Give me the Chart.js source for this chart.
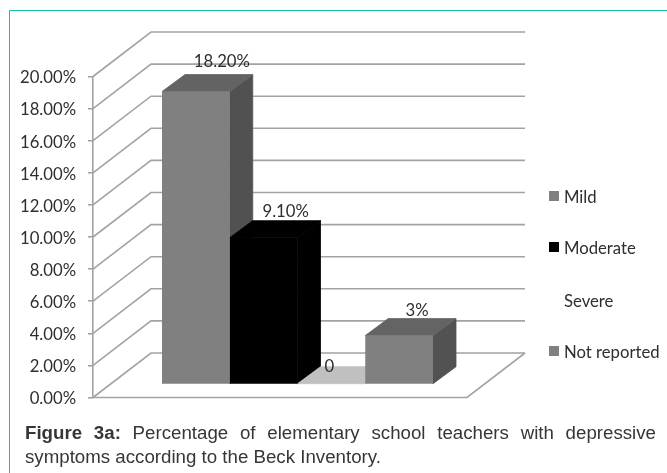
<!DOCTYPE html>
<html>
<head>
<meta charset="utf-8">
<script src="https://cdn.jsdelivr.net/npm/chart.js@4"></script>
<style>
  html, body { margin: 0; padding: 0; background: #fff; overflow: hidden; }
  #page { position: relative; width: 667px; height: 473px; overflow: hidden; }
  #frame { position: absolute; left: 9px; top: 10px; width: 700px; height: 500px;
           border: 1.5px solid #14bfa6; box-sizing: border-box; }
  canvas { position: absolute; left: 0; top: 0; }
  #caption { position: absolute; left: 25px; top: 420.5px; width: 631px;
             font: 18.7px/24.6px "Liberation Sans", Arial, sans-serif; color: #363636;
             text-align: justify; }
</style>
</head>
<body>
<div id="page">
  <div id="frame"></div>
  <canvas id="chart" width="667" height="473"></canvas>
  <div id="caption"><b>Figure 3a:</b> Percentage of elementary school teachers with depressive symptoms according to the Beck Inventory.</div>
</div>
<script>
// Series
const seriesNames  = ['Mild', 'Moderate', 'Severe', 'Not reported'];
const seriesValues = [18.2, 9.1, 0, 3];
const valueLabels  = ['18.20%', '9.10%', '0', '3%'];
const frontColors  = ['#808080', '#000000', '#ffffff', '#808080'];
const topColors    = ['#636363', '#000000', '#c0c0c0', '#646464'];
const sideColors   = ['#515151', '#000000', '#c0c0c0', '#525252'];
const tickValues   = [0, 2, 4, 6, 8, 10, 12, 14, 16, 18, 20];

// Oblique projection of the box
const wallDepth = { dx: 58, dy: -44.5 };   // front wall edge to back wall
const barDepth  = { dx: 23, dy: -17 };     // front to back of a column
const floorInset = 35;                     // columns sit further right than the floor's front edge
const gridColor = '#a3a3a3';
const textFont  = 'Lato, sans-serif';
const textSize  = 16.7;
const textColor = '#2e2e2e';
const textDrop  = 1.5;                     // Lato sits high on a middle baseline

// Nudges that keep each value label clear of its column
const labelNudge = [[3, -14], [-1, -11], [-25, -2], [-5, -9]];
// Vertical centres of the legend rows
const legendRows = [196, 247, 300, 351];

// Fills a face and strokes it in its own colour so neighbouring faces leave no seam
function face(ctx, color, pts) {
  ctx.fillStyle = color;
  ctx.strokeStyle = color;
  ctx.lineWidth = 0.8;
  ctx.beginPath();
  pts.forEach(([x, y], i) => (i ? ctx.lineTo(x, y) : ctx.moveTo(x, y)));
  ctx.closePath();
  ctx.fill();
  ctx.stroke();
}

const box3d = {
  id: 'box3d',
  afterLayout(chart) {
    chart.scales.y.getLabelItems().forEach(item => { item.textOffset += textDrop; });
  },
  beforeDatasetsDraw(chart) {
    const { ctx, chartArea: a, scales } = chart;
    const y = scales.y, floorRight = a.right - floorInset;
    ctx.save();
    ctx.strokeStyle = gridColor;
    ctx.lineWidth = 1.6;
    // Left and back walls: one bent line per tick
    for (const v of tickValues) {
      const py = y.getPixelForValue(v);
      ctx.beginPath();
      ctx.moveTo(a.left, py);
      ctx.lineTo(a.left + wallDepth.dx, py + wallDepth.dy);
      ctx.lineTo(floorRight + wallDepth.dx, py + wallDepth.dy);
      ctx.stroke();
    }
    // Floor outline
    const py0 = y.getPixelForValue(0);
    ctx.beginPath();
    ctx.moveTo(a.left, py0);
    ctx.lineTo(floorRight, py0);
    ctx.lineTo(floorRight + wallDepth.dx, py0 + wallDepth.dy);
    ctx.stroke();
    // Top and side faces of the columns, left to right
    chart.data.datasets.forEach((ds, i) => {
      const b = chart.getDatasetMeta(i).data[0];
      const l = b.x - b.width / 2, r = b.x + b.width / 2;
      const { dx, dy } = barDepth;
      if (seriesValues[i] > 0) {
        face(ctx, sideColors[i], [[r, b.y], [r + dx, b.y + dy], [r + dx, b.base + dy], [r, b.base]]);
      }
      face(ctx, topColors[i], [[l, b.y], [l + dx, b.y + dy], [r + dx, b.y + dy], [r, b.y]]);
    });
    ctx.restore();
  },
  afterDatasetsDraw(chart) {
    const { ctx } = chart;
    ctx.save();
    ctx.fillStyle = textColor;
    ctx.font = textSize + 'px ' + textFont;
    ctx.textBaseline = 'middle';
    // Value labels above the back edge of each column
    ctx.textAlign = 'center';
    chart.data.datasets.forEach((ds, i) => {
      const b = chart.getDatasetMeta(i).data[0];
      ctx.fillText(valueLabels[i],
        b.x + barDepth.dx + labelNudge[i][0],
        b.y + barDepth.dy + labelNudge[i][1] + textDrop);
    });
    // Legend
    ctx.textAlign = 'left';
    chart.data.datasets.forEach((ds, i) => {
      ctx.fillStyle = frontColors[i];
      ctx.fillRect(549, legendRows[i] - 5, 10, 10);
      ctx.fillStyle = textColor;
      ctx.fillText(ds.label, 564, legendRows[i] + textDrop);
    });
    ctx.restore();
  }
};

new Chart(document.getElementById('chart'), {
  type: 'bar',
  data: {
    labels: [''],
    datasets: seriesNames.map((name, i) => ({
      label: name,
      data: [seriesValues[i]],
      backgroundColor: frontColors[i],
      yAxisID: 'yBars'
    }))
  },
  options: {
    responsive: false,
    animation: false,
    events: [],
    layout: { padding: { left: 0, top: 76.5, right: 165, bottom: 75.5 } },
    datasets: { bar: { categoryPercentage: 0.6626, barPercentage: 1, borderWidth: 0 } },
    plugins: { legend: { display: false }, tooltip: { enabled: false }, title: { display: false } },
    scales: {
      x: { display: false },
      y: {
        position: 'left',
        min: 0,
        max: 20,
        afterBuildTicks: ax => { ax.ticks = tickValues.map(v => ({ value: v })); },
        afterFit: ax => { ax.width = 93; },
        grid: { drawOnChartArea: false, tickLength: 5, color: gridColor, lineWidth: 1.6 },
        border: { color: gridColor, width: 1.6 },
        ticks: {
          callback: v => v.toFixed(2) + '%',
          font: { family: textFont, size: textSize },
          color: textColor,
          padding: 12
        }
      },
      // Same pixel scale as y, with its zero lifted to where the columns stand on the floor
      yBars: { display: false, position: 'left', min: -0.86, max: 19.14 }
    }
  },
  plugins: [box3d]
});
</script>
</body>
</html>
